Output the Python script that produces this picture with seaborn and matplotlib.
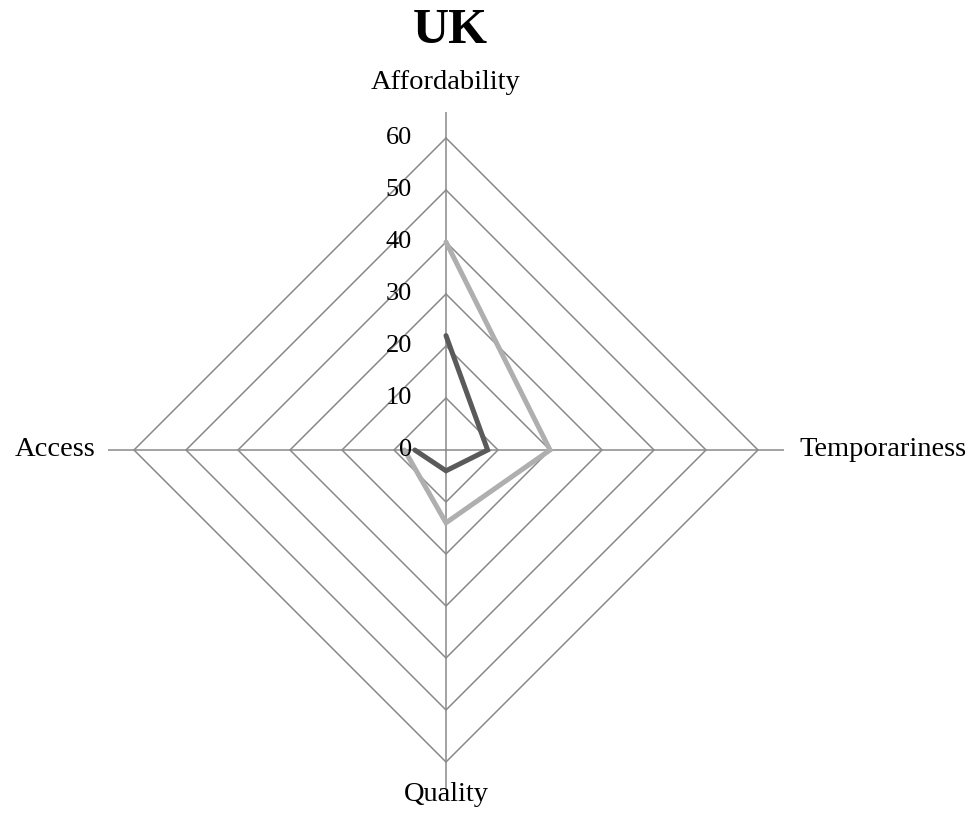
import numpy as np
import pandas as pd
import matplotlib
matplotlib.use('Agg')
import matplotlib.pyplot as plt
import matplotlib.transforms as mtransforms
import seaborn as sns

# data
categories = ['Affordability', 'Temporariness', 'Quality', 'Access']
series_light = [40, 20, 14, 8]
series_dark = [22, 8, 4, 6]
ring_levels = [10, 20, 30, 40, 50, 60]
tick_values = [0, 10, 20, 30, 40, 50, 60]

sns.set_style('white')
plt.rcParams['font.family'] = ['Liberation Serif', 'DejaVu Serif']
plt.rcParams['text.color'] = 'black'

grid_color = '#898989'
light_color = '#afafaf'
dark_color = '#5a5a5a'

angles = np.linspace(0, 2 * np.pi, len(categories), endpoint=False)
angles_closed = np.append(angles, angles[0])

fig = plt.figure(figsize=(9.79, 8.36), dpi=100)
ax = fig.add_axes([108 / 979, 48 / 836, 676 / 979, 676 / 836], projection='polar')
ax.set_theta_zero_location('N')
ax.set_theta_direction(-1)

# diamond grid + spokes
for lvl in ring_levels:
    ax.plot(angles_closed, [lvl] * len(angles_closed), color=grid_color, lw=1.1, zorder=1)
for a in angles:
    ax.plot([a, a], [0, 65], color=grid_color, lw=1.1, zorder=1)
n_grid = len(ax.lines)

df = pd.DataFrame({
    'theta': np.concatenate([angles_closed, angles_closed]),
    'value': series_light + series_light[:1] + series_dark + series_dark[:1],
    'series': ['light'] * 5 + ['dark'] * 5,
})
sns.lineplot(data=df, x='theta', y='value', hue='series', sort=False,
             palette={'light': light_color, 'dark': dark_color},
             legend=False, ax=ax, zorder=3)
for line in ax.lines[n_grid:]:
    line.set_linewidth(3.6)
    line.set_solid_joinstyle('miter')

ax.set_ylim(0, 65)
ax.grid(False)
ax.spines['polar'].set_visible(False)
ax.set_xticks([])
ax.set_yticks([])
ax.set_xlabel('')
ax.set_ylabel('')

# radial tick labels
trans = mtransforms.offset_copy(ax.transData, fig=fig, x=-34, y=0, units='dots')
for v in tick_values:
    ax.text(0, v, str(v), transform=trans, ha='right', va='center', fontsize=19, color='black')

# category labels
ax.text(angles[0], 70.6, categories[0], ha='center', va='center', fontsize=20.5, color='black')
ax.text(angles[1], 68, categories[1], ha='left', va='center', fontsize=20.5, color='black')
ax.text(angles[2], 66.3, categories[2], ha='center', va='center', fontsize=20.5, color='black')
ax.text(angles[3], 67.5, categories[3], ha='right', va='center', fontsize=20.5, color='black')

fig.text(450 / 979, 1 - 31 / 836, 'UK', ha='center', va='center', fontsize=36,
         fontweight='bold', color='black')

fig.savefig('out.png', dpi=100)
